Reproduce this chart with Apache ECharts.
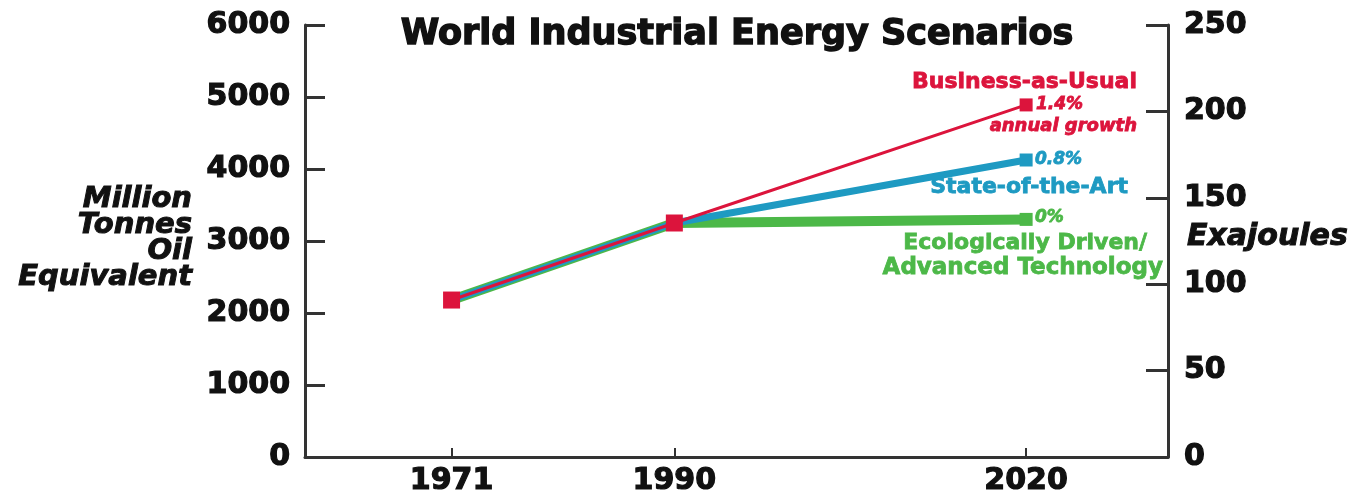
<!DOCTYPE html>
<html>
<head>
<meta charset="utf-8">
<script src="https://cdn.jsdelivr.net/npm/echarts@6/dist/echarts.min.js"></script>
<style>
  html, body { margin: 0; padding: 0; background: #fff; }
  #chart { width: 1370px; height: 498px; }
</style>
</head>
<body>
<div id="chart"></div>
<script>
// data
const years = [1971, 1990, 2020]
const businessAsUsual = [2180, 3250, 4890]
const stateOfTheArt = [2180, 3250, 4125]
const ecoDriven = [2180, 3250, 3300]
const leftTicks = [0, 1000, 2000, 3000, 4000, 5000, 6000]
const rightTicks = [0, 50, 100, 150, 200, 250]

const RED = '#dc143c'
const BLUE = '#1e9ac2'
const GREEN = '#4cb848'
const INK = '#111'
const FONT = 'DejaVu Sans'

const pairs = vals => years.map((y, i) => [y, vals[i]])

const chart = echarts.init(document.getElementById('chart'))

// heavy bold text (stroke in same colour to thicken the glyphs)
function txt(text, x, y, color, size, align, italic, stroke) {
  return {
    type: 'text',
    x: x,
    y: y,
    style: {
      text: text,
      fill: color,
      stroke: color,
      lineWidth: stroke == null ? 0.8 : stroke,
      fontSize: size,
      fontWeight: 'bold',
      fontStyle: italic ? 'italic' : 'normal',
      fontFamily: FONT,
      align: align,
      verticalAlign: 'middle'
    }
  }
}

const axisLabelStyle = {
  color: INK,
  fontSize: 30,
  fontWeight: 'bold',
  fontFamily: FONT,
  textBorderColor: INK,
  textBorderWidth: 1.2,
  formatter: v => String(v)
}

const option = {
  animation: false,
  grid: { left: 305, right: 202, top: 25, bottom: 41 },
  xAxis: {
    type: 'value',
    min: 1958.5,
    max: 2032.1,
    axisLine: { show: true, lineStyle: { color: '#333', width: 3 } },
    axisTick: { show: true, inside: true, length: 9, lineStyle: { color: '#333', width: 2 }, customValues: years },
    axisLabel: { customValues: years, margin: 9, ...axisLabelStyle },
    splitLine: { show: false }
  },
  yAxis: [
    {
      type: 'value',
      min: leftTicks[0],
      max: leftTicks[leftTicks.length - 1],
      interval: 1000,
      position: 'left',
      axisLine: { show: true, lineStyle: { color: '#333', width: 3 } },
      axisTick: { show: true, inside: true, length: 20, lineStyle: { color: '#333', width: 3 } },
      axisLabel: { margin: 15, ...axisLabelStyle },
      splitLine: { show: false }
    },
    {
      type: 'value',
      min: rightTicks[0],
      max: rightTicks[rightTicks.length - 1],
      interval: 50,
      position: 'right',
      axisLine: { show: true, lineStyle: { color: '#333', width: 3 } },
      axisTick: { show: true, inside: true, length: 22, lineStyle: { color: '#333', width: 3 } },
      axisLabel: { margin: 16, ...axisLabelStyle },
      splitLine: { show: false }
    }
  ],
  series: [
    {
      name: 'Ecologically Driven/Advanced Technology',
      type: 'line',
      data: pairs(ecoDriven),
      lineStyle: { color: GREEN, width: 10, cap: 'butt' },
      itemStyle: { color: GREEN },
      symbol: 'rect',
      symbolSize: 13
    },
    {
      name: 'State-of-the-Art',
      type: 'line',
      data: pairs(stateOfTheArt),
      lineStyle: { color: BLUE, width: 7, cap: 'butt' },
      itemStyle: { color: BLUE },
      symbol: 'rect',
      symbolSize: 13
    },
    {
      name: 'Business-as-Usual',
      type: 'line',
      data: pairs(businessAsUsual),
      lineStyle: { color: RED, width: 3 },
      itemStyle: { color: RED },
      symbol: 'rect',
      symbolSize: (v) => (v[0] === 2020 ? 13 : 17)
    }
  ],
  graphic: [
    txt('World Industrial Energy Scenarios', 737, 35, INK, 35, 'center', false, 1.4),
    {
      type: 'text',
      x: 192,
      y: 186,
      style: {
        text: 'Million\nTonnes\nOil\nEquivalent',
        fill: INK,
        stroke: INK,
        lineWidth: 1,
        fontSize: 29,
        fontWeight: 'bold',
        fontStyle: 'italic',
        fontFamily: FONT,
        align: 'right',
        lineHeight: 26
      }
    },
    txt('Exajoules', 1187, 237, INK, 30, 'left', true, 1),
    txt('Business-as-Usual', 1137, 82, RED, 22, 'right', false),
    txt('1.4%', 1036, 105, RED, 17, 'left', true),
    txt('annual growth', 1137, 126, RED, 18, 'right', true),
    txt('0.8%', 1035, 160, BLUE, 17, 'left', true),
    txt('State-of-the-Art', 1128, 187, BLUE, 22, 'right', false),
    txt('0%', 1035, 218, GREEN, 17, 'left', true),
    txt('Ecologically Driven/', 1147, 243, GREEN, 22, 'right', false),
    txt('Advanced Technology', 1163, 268, GREEN, 23, 'right', false)
  ]
}

chart.setOption(option)
</script>
</body>
</html>
